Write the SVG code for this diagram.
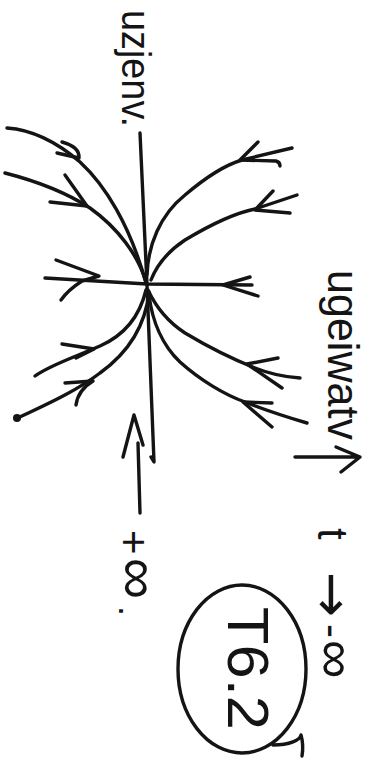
<svg xmlns="http://www.w3.org/2000/svg" width="387" height="761" viewBox="0 0 387 761">
<style>
.s{fill:none;stroke:#141414;stroke-width:3.4;stroke-linecap:round;stroke-linejoin:round}
.t{font-family:"Liberation Sans","DejaVu Sans",sans-serif;fill:#141414}
.a{font-family:"DejaVu Sans",sans-serif;fill:#141414}
</style>
<rect width="387" height="761" fill="#fff"/>
<g id="axes">
<path id="vertical-axis" class="s" d="M140,133 L147,285 L154,462 L151,457"/>
<path id="horizontal-axis" class="s" d="M45,278 L147,284 L252,285"/>
<path id="axis-arrow-up" class="s" d="M123,457 L134,415 L143,445 M138,443 L140,513"/>
</g>
<g id="connectors">
<path class="s" d="M7,128 C35,130 58,143 80,162 C105,185 130,225 146,283"/>
<path class="s" d="M5,173 C40,182 70,195 90,208 C118,228 138,255 146,282"/>
<path class="s" d="M146,290 C140,315 125,335 100,346 C75,357 50,365 35,376"/>
<path class="s" d="M149,292 C145,330 125,355 100,373 C75,392 45,405 18,418"/>
<path class="s" d="M147,275 C148,245 160,215 185,195 C205,178 225,165 242,160 L292,148"/>
<path class="s" d="M151,280 C158,262 170,250 185,240 C210,225 235,213 255,209 L297,195"/>
<path class="s" d="M148,290 C155,305 165,320 185,333 C210,348 235,360 255,368 C270,374 285,377 300,378"/>
<path class="s" d="M149,295 C152,320 162,345 180,362 C200,380 225,395 245,402 C270,412 290,418 307,423"/>
<circle cx="17" cy="418" r="4" fill="#141414"/>
</g>
<g id="arrowheads">
<path class="s" d="M62,142 Q80,147 79,158 L57,153"/>
<path class="s" d="M65,175 L87,206 L50,202"/>
<path class="s" d="M56,260 L99,276 L82,281 Q68,290 61,300"/>
<path class="s" d="M62,344 L94,349 L76,358"/>
<path class="s" d="M65,383 L93,381 Q78,390 76,405"/>
<path class="s" d="M258,142 L240,160 L276,161 Q280,162 280,166"/>
<path class="s" d="M273,191 L255,210 L290,213"/>
<path class="s" d="M250,277 L223,285 L258,296"/>
<path class="s" d="M278,358 L247,364 L282,388"/>
<path class="s" d="M272,403 L243,402 L272,427"/>
</g>
<g id="label-top">
<text class="t" transform="translate(122,10) rotate(90)" font-size="40" textLength="117" lengthAdjust="spacingAndGlyphs">uzjenv.</text>
</g>
<g id="label-right">
<text class="t" transform="translate(328,270) rotate(90)" font-size="44" textLength="170" lengthAdjust="spacingAndGlyphs">ugeiwatv</text>
<path class="s" d="M295,457 L360,457 M336,447 L360,457 L341,472"/>
</g>
<g id="label-t" transform="translate(318,528) rotate(90)">
<text class="t" x="0" y="0" font-size="42">t <tspan class="a" x="44" y="4" font-size="54">→</tspan><tspan x="96" y="0" font-size="42">-</tspan><tspan x="112" font-size="54">∞</tspan></text>
</g>
<g id="label-plus-inf" transform="translate(119,530) rotate(90)">
<text class="t" x="0" y="0" font-size="42">+<tspan x="28" font-size="58">∞</tspan><tspan x="76" font-size="36">.</tspan></text>
</g>
<g id="tag-T62">
<ellipse class="s" cx="242" cy="669" rx="64" ry="84"/>
<path class="s" d="M273,745 C290,745 300,740 301,735 C303,742 303,750 302,756"/>
<text class="t" transform="translate(228,607) rotate(90)" font-size="58" textLength="123" lengthAdjust="spacingAndGlyphs">T6.2</text>
</g>
</svg>
